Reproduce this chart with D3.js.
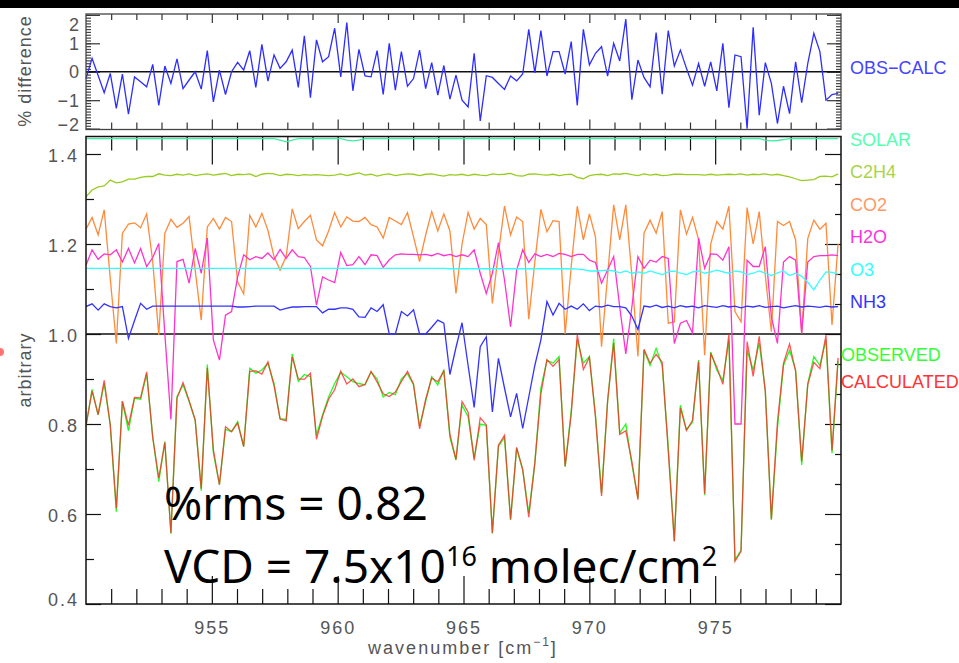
<!DOCTYPE html>
<html>
<head>
<meta charset="utf-8">
<script src="https://cdn.jsdelivr.net/npm/d3@7"></script>
<style>
body { margin: 0; background: #fff; }
svg text { font-family: "Liberation Sans", Arial, sans-serif; }
.tick text { fill: #555; font-size: 18px; letter-spacing: 2px; }
</style>
</head>
<body>
<svg id="chart" width="959" height="663"></svg>
<script>
// spectral grid of the fit (cm-1)
var waveStart = 950.0;
var waveStep = 0.241;

// OBS-CALC in percent
var obsCalc = [
  -0.24, 0.47, -0.13, -0.74, -0.06, -1.29, -0.08, -1.49, -0.18, -0.35,
  -0.53, 0.26, -1.18, 0.20, -0.41, 0.45, -0.59, -0.29, 0.00, -0.61,
  0.74, -1.06, 0.06, -0.80, 0.00, 0.33, 0.06, 0.74, -0.55, 0.96,
  -0.33, 0.59, 0.12, 0.35, 0.76, -0.55, 1.26, -0.91, 1.12, 0.35,
  0.53, 1.53, -0.18, 1.73, -0.67, 0.79, -0.15, -0.18, 0.74, -0.80,
  1.00, -0.65, 0.71, -0.51, -0.24, 0.76, -0.59, 0.32, -0.82, 0.22,
  -0.96, -0.12, -1.00, -1.24, 0.65, -1.73, -0.14, -0.20, -0.41, -0.62,
  -0.15, -0.32, -0.08, 1.49, -0.04, 1.45, -0.15, 0.71, 0.71, -0.08,
  1.06, -1.18, 1.49, 0.24, 0.65, 0.88, -0.15, 1.00, 0.38, 1.85,
  -0.98, 0.41, -0.20, -0.53, 1.38, -0.79, 1.45, 0.20, 0.76, 0.12,
  -0.47, 0.29, -0.51, 0.35, -0.67, 1.00, -1.26, 0.59, 0.53, -2.00,
  1.56, -1.53, 0.32, -0.41, -1.82, -0.51, -1.47, 0.35, -1.09, 0.29,
  1.35, 0.71, -1.00, -0.80, -0.76
];

var solar = [
  1.434, 1.434, 1.434, 1.434, 1.434, 1.434, 1.434, 1.434, 1.434, 1.434,
  1.434, 1.434, 1.434, 1.434, 1.434, 1.434, 1.434, 1.434, 1.434, 1.434,
  1.434, 1.434, 1.434, 1.434, 1.434, 1.434, 1.434, 1.434, 1.434, 1.434,
  1.434, 1.434, 1.431, 1.427, 1.431, 1.434, 1.434, 1.434, 1.434, 1.434,
  1.434, 1.434, 1.434, 1.431, 1.429, 1.431, 1.434, 1.434, 1.434, 1.434,
  1.434, 1.434, 1.434, 1.434, 1.434, 1.434, 1.434, 1.434, 1.434, 1.434,
  1.434, 1.434, 1.434, 1.434, 1.434, 1.434, 1.434, 1.434, 1.434, 1.434,
  1.434, 1.434, 1.434, 1.434, 1.434, 1.434, 1.434, 1.434, 1.434, 1.434,
  1.434, 1.434, 1.434, 1.434, 1.434, 1.434, 1.434, 1.434, 1.434, 1.434,
  1.434, 1.434, 1.434, 1.434, 1.434, 1.434, 1.434, 1.434, 1.434, 1.434,
  1.434, 1.434, 1.434, 1.434, 1.434, 1.434, 1.434, 1.434, 1.434, 1.434,
  1.434, 1.434, 1.431, 1.429, 1.430, 1.432, 1.434, 1.434, 1.434, 1.434,
  1.434, 1.434, 1.434, 1.434, 1.434
];

var c2h4 = [
  1.305, 1.320, 1.327, 1.329, 1.342, 1.336, 1.338, 1.344, 1.344, 1.348,
  1.350, 1.350, 1.356, 1.353, 1.352, 1.355, 1.353, 1.356, 1.352, 1.354,
  1.356, 1.353, 1.355, 1.357, 1.352, 1.355, 1.354, 1.356, 1.350, 1.355,
  1.357, 1.356, 1.352, 1.355, 1.354, 1.352, 1.354, 1.353, 1.354, 1.353,
  1.352, 1.353, 1.356, 1.352, 1.355, 1.358, 1.353, 1.355, 1.351, 1.354,
  1.356, 1.352, 1.354, 1.356, 1.355, 1.352, 1.355, 1.356, 1.353, 1.351,
  1.354, 1.353, 1.355, 1.352, 1.355, 1.353, 1.352, 1.356, 1.354, 1.355,
  1.357, 1.352, 1.351, 1.355, 1.356, 1.354, 1.353, 1.355, 1.352, 1.354,
  1.355, 1.348, 1.345, 1.352, 1.354, 1.355, 1.352, 1.356, 1.355, 1.357,
  1.354, 1.352, 1.356, 1.353, 1.355, 1.352, 1.353, 1.355, 1.355, 1.354,
  1.354, 1.354, 1.353, 1.355, 1.353, 1.354, 1.355, 1.354, 1.356, 1.353,
  1.355, 1.354, 1.356, 1.353, 1.355, 1.352, 1.349, 1.345, 1.341, 1.342,
  1.343, 1.350, 1.351, 1.349, 1.356
];

var co2 = [
  1.233, 1.259, 1.220, 1.276, 1.123, 0.979, 1.224, 1.244, 1.247, 1.236,
  1.267, 1.161, 0.998, 1.224, 1.255, 1.237, 1.246, 1.261, 1.142, 1.031,
  1.238, 1.257, 1.233, 1.259, 1.250, 1.116, 1.089, 1.264, 1.238, 1.268,
  1.230, 1.172, 1.142, 1.172, 1.278, 1.234, 1.250, 1.264, 1.209, 1.196,
  1.229, 1.270, 1.238, 1.260, 1.251, 1.250, 1.259, 1.243, 1.238, 1.213,
  1.259, 1.251, 1.243, 1.270, 1.216, 1.161, 1.220, 1.272, 1.229, 1.267,
  1.229, 1.090, 1.200, 1.270, 1.233, 1.257, 1.243, 1.068, 1.180, 1.284,
  1.220, 1.260, 1.250, 1.033, 1.160, 1.277, 1.227, 1.252, 1.250, 1.000,
  1.150, 1.284, 1.209, 1.267, 1.216, 0.972, 1.130, 1.287, 1.209, 1.287,
  1.130, 0.950, 1.224, 1.253, 1.224, 1.272, 1.024, 1.027, 1.276, 1.222,
  1.259, 1.210, 0.953, 1.200, 1.250, 1.233, 1.284, 1.050, 1.027, 1.281,
  1.200, 1.272, 1.130, 1.005, 1.250, 1.241, 1.250, 1.209, 1.001, 1.212,
  1.253, 1.233, 1.246, 1.020, 1.200
];

var h2o = [
  1.153, 1.187, 1.166, 1.178, 1.176, 1.187, 1.160, 1.190, 1.158, 1.190,
  1.150, 1.170, 1.201, 1.000, 0.810, 1.161, 1.166, 1.113, 1.190, 1.135,
  1.213, 0.987, 0.942, 1.042, 1.050, 1.127, 1.176, 1.165, 1.172, 1.168,
  1.180, 1.165, 1.188, 1.168, 1.187, 1.172, 1.170, 1.150, 1.064, 1.127,
  1.120, 1.114, 1.181, 1.152, 1.154, 1.172, 1.154, 1.176, 1.174, 1.148,
  1.165, 1.176, 1.178, 1.177, 1.177, 1.176, 1.177, 1.174, 1.179, 1.174,
  1.177, 1.172, 1.176, 1.172, 1.187, 1.135, 1.090, 1.135, 1.203, 1.120,
  1.016, 1.142, 1.187, 1.159, 1.178, 1.172, 1.177, 1.172, 1.179, 1.177,
  1.172, 1.177, 1.177, 1.164, 1.159, 1.113, 1.142, 1.172, 1.060, 0.956,
  1.060, 1.172, 1.146, 1.164, 1.160, 1.172, 1.168, 0.979, 1.024, 1.030,
  1.002, 1.213, 1.146, 1.178, 1.177, 1.164, 1.194, 0.800, 0.800, 1.164,
  1.150, 1.150, 1.194, 1.038, 0.979, 1.160, 1.172, 1.164, 1.002, 1.160,
  1.172, 1.174, 1.174, 1.176, 1.174
];

var o3 = [
  1.146, 1.146, 1.146, 1.146, 1.146, 1.146, 1.146, 1.146, 1.146, 1.146,
  1.146, 1.146, 1.146, 1.146, 1.146, 1.146, 1.146, 1.146, 1.146, 1.146,
  1.146, 1.146, 1.146, 1.146, 1.146, 1.146, 1.146, 1.146, 1.146, 1.146,
  1.146, 1.146, 1.146, 1.146, 1.146, 1.146, 1.146, 1.146, 1.146, 1.146,
  1.146, 1.146, 1.146, 1.146, 1.146, 1.146, 1.146, 1.146, 1.146, 1.146,
  1.146, 1.146, 1.146, 1.146, 1.146, 1.146, 1.146, 1.146, 1.146, 1.146,
  1.145, 1.145, 1.145, 1.145, 1.145, 1.145, 1.145, 1.145, 1.145, 1.145,
  1.145, 1.145, 1.145, 1.145, 1.145, 1.145, 1.145, 1.145, 1.145, 1.145,
  1.145, 1.144, 1.143, 1.140, 1.140, 1.141, 1.142, 1.140, 1.136, 1.140,
  1.135, 1.138, 1.135, 1.140, 1.136, 1.132, 1.138, 1.140, 1.135, 1.132,
  1.138, 1.140, 1.135, 1.138, 1.142, 1.138, 1.135, 1.140, 1.138, 1.132,
  1.135, 1.140, 1.135, 1.130, 1.136, 1.140, 1.130, 1.135, 1.128, 1.115,
  1.098, 1.120, 1.138, 1.137, 1.133
];

var nh3 = [
  1.061, 1.067, 1.053, 1.067, 1.061, 1.058, 1.061, 0.990, 1.030, 1.068,
  1.055, 1.062, 1.062, 1.062, 1.062, 1.062, 1.062, 1.062, 1.062, 1.062,
  1.062, 1.062, 1.062, 1.062, 1.062, 1.060, 1.060, 1.061, 1.062, 1.062,
  1.062, 1.062, 1.053, 1.057, 1.060, 1.060, 1.061, 1.061, 1.061, 1.047,
  1.055, 1.055, 1.058, 1.058, 1.055, 1.038, 1.037, 1.058, 1.050, 1.065,
  1.000, 1.000, 1.050, 1.040, 1.054, 1.000, 1.000, 1.015, 1.031, 1.024,
  0.910, 0.970, 1.025, 0.930, 0.837, 0.972, 0.994, 0.827, 0.946, 0.880,
  0.816, 0.868, 0.790, 0.860, 0.930, 0.987, 1.072, 1.042, 1.068, 1.055,
  1.062, 1.055, 1.067, 1.052, 1.062, 1.060, 1.064, 1.061, 1.061, 1.058,
  1.040, 1.010, 1.062, 1.060, 1.064, 1.059, 1.062, 1.058, 1.063, 1.060,
  1.062, 1.058, 1.063, 1.061, 1.059, 1.063, 1.060, 1.062, 1.058, 1.062,
  1.060, 1.063, 1.059, 1.061, 1.062, 1.058, 1.061, 1.063, 1.060, 1.062,
  1.061, 1.059, 1.062, 1.060, 1.061
];

var observed = [
  0.795, 0.877, 0.820, 0.890, 0.798, 0.605, 0.850, 0.785, 0.857, 0.855,
  0.911, 0.772, 0.672, 0.761, 0.556, 0.861, 0.887, 0.850, 0.809, 0.652,
  0.932, 0.735, 0.665, 0.788, 0.783, 0.805, 0.750, 0.924, 0.913, 0.920,
  0.935, 0.890, 0.812, 0.810, 0.956, 0.895, 0.910, 0.905, 0.775, 0.820,
  0.860, 0.890, 0.915, 0.905, 0.894, 0.890, 0.887, 0.915, 0.900, 0.860,
  0.870, 0.865, 0.900, 0.912, 0.887, 0.795, 0.850, 0.905, 0.887, 0.920,
  0.770, 0.720, 0.842, 0.816, 0.724, 0.800, 0.797, 0.557, 0.750, 0.770,
  0.587, 0.746, 0.698, 0.602, 0.713, 0.880, 0.942, 0.935, 0.950, 0.705,
  0.830, 0.987, 0.935, 0.950, 0.820, 0.646, 0.850, 0.990, 0.780, 0.800,
  0.710, 0.635, 0.964, 0.930, 0.968, 0.930, 0.750, 0.540, 0.842, 0.787,
  0.804, 0.942, 0.642, 0.960, 0.920, 0.897, 0.987, 0.498, 0.520, 0.964,
  0.920, 0.980, 0.875, 0.587, 0.790, 0.930, 0.964, 0.920, 0.709, 0.890,
  0.950, 0.930, 0.987, 0.735, 0.940
];

var calculated = [
  0.797, 0.873, 0.821, 0.897, 0.798, 0.613, 0.851, 0.797, 0.859, 0.858,
  0.916, 0.770, 0.680, 0.759, 0.558, 0.857, 0.892, 0.852, 0.809, 0.656,
  0.925, 0.743, 0.665, 0.794, 0.783, 0.802, 0.750, 0.917, 0.918, 0.911,
  0.938, 0.885, 0.811, 0.807, 0.949, 0.900, 0.899, 0.913, 0.766, 0.817,
  0.855, 0.876, 0.917, 0.889, 0.900, 0.883, 0.888, 0.917, 0.893, 0.867,
  0.861, 0.871, 0.894, 0.917, 0.889, 0.789, 0.855, 0.902, 0.894, 0.918,
  0.777, 0.721, 0.850, 0.826, 0.719, 0.814, 0.798, 0.558, 0.753, 0.775,
  0.588, 0.748, 0.699, 0.593, 0.713, 0.867, 0.943, 0.928, 0.943, 0.706,
  0.821, 0.998, 0.921, 0.948, 0.815, 0.640, 0.851, 0.980, 0.777, 0.785,
  0.717, 0.632, 0.966, 0.935, 0.955, 0.937, 0.739, 0.539, 0.836, 0.786,
  0.808, 0.939, 0.645, 0.957, 0.926, 0.888, 0.999, 0.495, 0.517, 0.983,
  0.906, 0.995, 0.872, 0.589, 0.804, 0.935, 0.978, 0.917, 0.717, 0.887,
  0.937, 0.923, 0.997, 0.741, 0.947
];

var xTicks = [955, 960, 965, 970, 975];
var diffTicks = [-2, -1, 0, 1, 2];
var specTicks = [0.4, 0.6, 0.8, 1.0, 1.2, 1.4];
var speciesNames = ["SOLAR", "C2H4", "CO2", "H2O", "O3", "NH3"];
var fitNames = ["OBSERVED", "CALCULATED"];

var lineColor = {
  "OBS-CALC": "#2d2dff", SOLAR: "#3cf0a0", C2H4: "#99cc22", CO2: "#ff8a3a",
  H2O: "#ff33cc", O3: "#33ffff", NH3: "#3333ff", OBSERVED: "#22ff22", CALCULATED: "#ff2a2a"
};
var textColor = {
  SOLAR: "#55ffb0", C2H4: "#a8d44a", CO2: "#ff9966", H2O: "#ff33dd",
  O3: "#33ffff", NH3: "#3333ff", OBSERVED: "#33ff33", CALCULATED: "#ff3333"
};

var svg = d3.select("#chart");

// black strip across the top
svg.append("rect").attr("x", 0).attr("y", 0).attr("width", 959).attr("height", 8).attr("fill", "#000");

var x = d3.scaleLinear().domain([950, 980]).range([86, 841]);
var yDiff = d3.scaleLinear().domain([-2.03, 2.03]).range([129.5, 14]);
var ySpec = d3.scaleLinear().domain([0.4, 1.44]).range([604, 136]);

function wave(i) { return waveStart + i * waveStep; }

var minorX = d3.range(951, 980).filter(function (d) { return d % 5 != 0; });

function ticks(g, axis, color) {
    g.call(axis);
    g.select(".domain").remove();
    g.selectAll(".tick line").attr("stroke", color).attr("stroke-width", 1.2);
}

// ---------- top panel: % difference ----------
var topPanel = svg.append("g");

// x ticks top / bottom edges
ticks(topPanel.append("g").attr("transform", "translate(0,14)"),
    d3.axisTop(x).tickValues(minorX).tickSize(-6).tickFormat(""), "#333");
ticks(topPanel.append("g").attr("transform", "translate(0,14)"),
    d3.axisTop(x).tickValues(xTicks).tickSize(-9).tickFormat(""), "#333");
ticks(topPanel.append("g").attr("transform", "translate(0,129.5)"),
    d3.axisBottom(x).tickValues(minorX).tickSize(-7).tickFormat(""), "#333");
ticks(topPanel.append("g").attr("transform", "translate(0,129.5)"),
    d3.axisBottom(x).tickValues(xTicks).tickSize(-10).tickFormat(""), "#333");

// dense minor y ticks both sides
var minorDiff = d3.range(-20, 21).map(function (d) { return d / 10; });
ticks(topPanel.append("g").attr("transform", "translate(86,0)"),
    d3.axisLeft(yDiff).tickValues(minorDiff).tickSize(-5).tickFormat(""), "#444");
ticks(topPanel.append("g").attr("transform", "translate(841,0)"),
    d3.axisRight(yDiff).tickValues(minorDiff).tickSize(-5).tickFormat(""), "#444");
ticks(topPanel.append("g").attr("transform", "translate(86,0)"),
    d3.axisLeft(yDiff).tickValues(diffTicks).tickSize(-14).tickFormat(""), "#333");
ticks(topPanel.append("g").attr("transform", "translate(841,0)"),
    d3.axisRight(yDiff).tickValues(diffTicks).tickSize(-14).tickFormat(""), "#333");

topPanel.selectAll("text.dlab")
    .data(diffTicks)
    .enter()
    .append("text")
    .attr("class", "dlab")
    .attr("x", 80)
    .attr("y", function (d) { return Math.max(24.5, Math.min(125, yDiff(d))); })
    .attr("dy", "0.36em")
    .attr("text-anchor", "end")
    .attr("fill", "#555")
    .attr("font-size", 18)
    .style("letter-spacing", "1px")
    .text(function (d) { return d < 0 ? "\u2212" + Math.abs(d) : d; });

topPanel.append("line")
    .attr("x1", 86).attr("x2", 841)
    .attr("y1", yDiff(0)).attr("y2", yDiff(0))
    .attr("stroke", "#111").attr("stroke-width", 1.3);

topPanel.append("path")
    .datum(obsCalc)
    .attr("fill", "none")
    .attr("stroke", lineColor["OBS-CALC"])
    .attr("stroke-width", 1.3)
    .attr("d", d3.line().x(function (d, i) { return x(wave(i)); }).y(function (d) { return yDiff(d); }));

topPanel.append("rect")
    .attr("x", 86).attr("y", 14).attr("width", 755).attr("height", 115.5)
    .attr("fill", "none").attr("stroke", "#444").attr("stroke-width", 1.3);

topPanel.append("text")
    .attr("transform", "translate(31,71) rotate(-90)")
    .attr("text-anchor", "middle")
    .attr("fill", "#555")
    .attr("font-size", 18)
    .style("letter-spacing", "1px")
    .text("% difference");

topPanel.append("text")
    .attr("x", 850).attr("y", 74)
    .attr("fill", "#4444ff")
    .attr("font-size", 18)
    .text("OBS\u2212CALC");

// ---------- bottom panel: spectra ----------
var bot = svg.append("g");

svg.append("clipPath").attr("id", "clip")
    .append("rect").attr("x", 86).attr("y", 136).attr("width", 755).attr("height", 468);

ticks(bot.append("g").attr("transform", "translate(0,136.5)"),
    d3.axisTop(x).tickValues(minorX).tickSize(-14).tickFormat(""), "#111");
ticks(bot.append("g").attr("transform", "translate(0,136.5)"),
    d3.axisTop(x).tickValues(xTicks).tickSize(-28).tickFormat(""), "#111");
ticks(bot.append("g").attr("transform", "translate(0,604)"),
    d3.axisBottom(x).tickValues(minorX).tickSize(-15).tickFormat(""), "#111");
ticks(bot.append("g").attr("transform", "translate(0,604)"),
    d3.axisBottom(x).tickValues(xTicks).tickSize(-28).tickPadding(17).tickFormat(d3.format("d")), "#111");

var minorSpec = [0.5, 0.7, 0.9, 1.1, 1.3];
ticks(bot.append("g").attr("transform", "translate(86,0)"),
    d3.axisLeft(ySpec).tickValues(minorSpec).tickSize(-8).tickFormat(""), "#111");
ticks(bot.append("g").attr("transform", "translate(86,0)"),
    d3.axisLeft(ySpec).tickValues(specTicks).tickSize(-15).tickFormat(""), "#111");

// right side has its own sub-division in thirds
var rightMinor = d3.range(0, 16).map(function (d) { return 0.4 + d * 0.2 / 3; })
    .filter(function (d, i) { return i % 3 != 0; });
ticks(bot.append("g").attr("transform", "translate(841,0)"),
    d3.axisRight(ySpec).tickValues(rightMinor).tickSize(-6).tickFormat(""), "#111");
ticks(bot.append("g").attr("transform", "translate(841,0)"),
    d3.axisRight(ySpec).tickValues(specTicks).tickSize(-16).tickFormat(""), "#111");

bot.selectAll("text.slab")
    .data(specTicks)
    .enter()
    .append("text")
    .attr("class", "slab")
    .attr("x", 79)
    .attr("y", function (d) { return Math.min(600, ySpec(d) + 2); })
    .attr("dy", "0.36em")
    .attr("text-anchor", "end")
    .attr("fill", "#555")
    .attr("font-size", 18)
    .style("letter-spacing", "2px")
    .text(d3.format(".1f"));

bot.append("line")
    .attr("x1", 86).attr("x2", 841)
    .attr("y1", ySpec(1.0)).attr("y2", ySpec(1.0))
    .attr("stroke", "#111").attr("stroke-width", 1.3);

var specLine = d3.line()
    .x(function (d, i) { return x(wave(i)); })
    .y(function (d) { return ySpec(d); });

var spectra = [solar, c2h4, co2, h2o, o3, nh3];
var fits = [observed, calculated];

var lines = bot.append("g").attr("clip-path", "url(#clip)");
lines.selectAll("path.species")
    .data(spectra)
    .enter()
    .append("path")
    .attr("class", "species")
    .attr("fill", "none")
    .attr("stroke", function (d, i) { return lineColor[speciesNames[i]]; })
    .attr("stroke-width", 1.3)
    .attr("d", specLine);

// calculated drawn over observed, a little see-through like the original
lines.selectAll("path.fit")
    .data(fits)
    .enter()
    .append("path")
    .attr("class", "fit")
    .attr("fill", "none")
    .attr("stroke", function (d, i) { return lineColor[fitNames[i]]; })
    .attr("stroke-opacity", function (d, i) { return i == 1 ? 0.8 : 1; })
    .attr("stroke-width", 1.3)
    .attr("d", specLine);

bot.append("rect")
    .attr("x", 86).attr("y", 136.5).attr("width", 755).attr("height", 467.5)
    .attr("fill", "none").attr("stroke", "#111").attr("stroke-width", 1.5);

// legend
bot.selectAll("text.species")
    .data(speciesNames)
    .enter()
    .append("text")
    .attr("class", "species")
    .attr("x", 850)
    .attr("y", function (d, i) { return 146 + i * 32.4; })
    .attr("fill", function (d) { return textColor[d]; })
    .attr("font-size", 18)
    .text(function (d) { return d; });

bot.selectAll("text.fit")
    .data(fitNames)
    .enter()
    .append("text")
    .attr("class", "fit")
    .attr("x", 841)
    .attr("y", function (d, i) { return 361 + i * 27; })
    .attr("fill", function (d) { return textColor[d]; })
    .attr("font-size", 18)
    .text(function (d) { return d; });

bot.append("text")
    .attr("transform", "translate(31,370) rotate(-90)")
    .attr("text-anchor", "middle")
    .attr("fill", "#555")
    .attr("font-size", 18)
    .style("letter-spacing", "1px")
    .text("arbitrary");

var xl = bot.append("text")
    .attr("x", 463).attr("y", 654)
    .attr("text-anchor", "middle")
    .attr("fill", "#555")
    .attr("font-size", 18)
    .style("letter-spacing", "2px");
xl.append("tspan").text("wavenumber [cm");
xl.append("tspan").attr("font-size", 12).attr("dy", -8).text("\u22121");
xl.append("tspan").attr("dy", 8).text("]");

// red mark cut off at the left edge
svg.append("circle").attr("cx", 0).attr("cy", 352).attr("r", 4).attr("fill", "#ff5050").attr("opacity", 0.8);

// fit summary
var noteFont = "'Noto Sans', 'Open Sans', sans-serif";
var note = svg.append("g").attr("fill", "#000");
note.append("text").attr("x", 164).attr("y", 520)
    .style("font-family", noteFont).style("font-size", "46px")
    .text("%rms = 0.82");
var vcd = note.append("text").attr("x", 164).attr("y", 583)
    .style("font-family", noteFont).style("font-size", "46px");
vcd.append("tspan").text("VCD = 7.5x10");
vcd.append("tspan").style("font-size", "27px").attr("dy", -17).text("16");
vcd.append("tspan").attr("dy", 17).text(" molec/cm");
vcd.append("tspan").style("font-size", "27px").attr("dy", -17).text("2");
</script>
</body>
</html>
